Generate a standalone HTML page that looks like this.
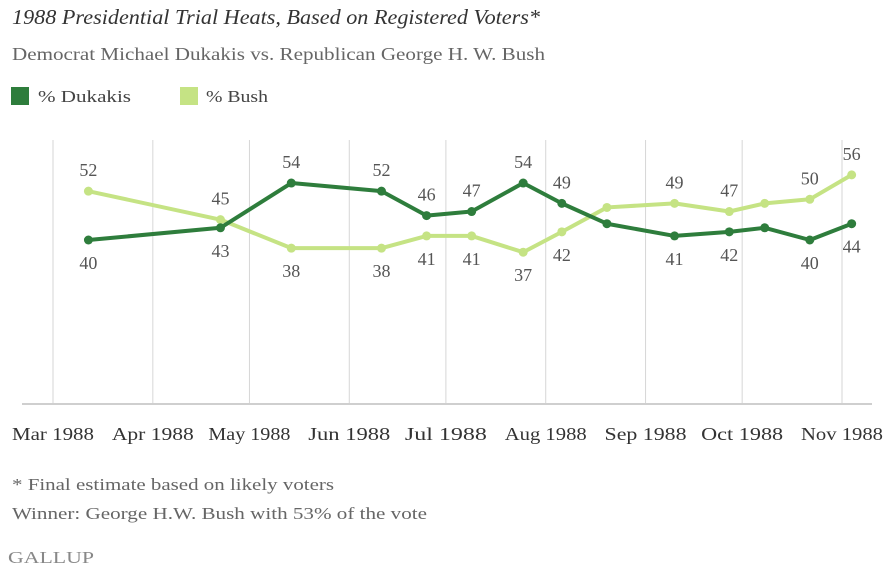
<!DOCTYPE html>
<html><head><meta charset="utf-8">
<style>
body{margin:0;background:#fff;width:894px;height:568px;overflow:hidden;font-family:"Liberation Serif",serif;}
svg{display:block}
</style></head>
<body>
<svg id="chart" width="894" height="568" viewBox="0 0 894 568" xmlns="http://www.w3.org/2000/svg">
  <text x="12" y="24" font-size="21" font-style="italic" fill="#333" textLength="528" lengthAdjust="spacingAndGlyphs">1988 Presidential Trial Heats, Based on Registered Voters*</text>
  <text x="12" y="60" font-size="17.5" fill="#666" textLength="533" lengthAdjust="spacingAndGlyphs">Democrat Michael Dukakis vs. Republican George H. W. Bush</text>
  <g>
    <rect x="11" y="87" width="18" height="18" fill="#2e7d3c"/>
    <text x="38" y="102" font-size="17" fill="#444" textLength="93" lengthAdjust="spacingAndGlyphs">% Dukakis</text>
    <rect x="180" y="87" width="18" height="18" fill="#c5e384"/>
    <text x="206" y="102" font-size="17" fill="#444" textLength="62" lengthAdjust="spacingAndGlyphs">% Bush</text>
  </g>
  <g id="grid"></g>
  <g id="xaxis"></g>
  <g id="series"></g>
  <text x="12" y="490" font-size="17" fill="#666" textLength="322" lengthAdjust="spacingAndGlyphs">* Final estimate based on likely voters</text>
  <text x="12" y="519" font-size="17" fill="#666" textLength="415" lengthAdjust="spacingAndGlyphs">Winner: George H.W. Bush with 53% of the vote</text>
  <text x="8" y="563" font-size="17" fill="#888" textLength="86" lengthAdjust="spacingAndGlyphs">GALLUP</text>
</svg>
<script>
const monthTicks = ["1988-03-01","1988-04-01","1988-05-01","1988-06-01","1988-07-01","1988-08-01","1988-09-01","1988-10-01","1988-11-01"];
const monthLabels = ["Mar 1988","Apr 1988","May 1988","Jun 1988","Jul 1988","Aug 1988","Sep 1988","Oct 1988","Nov 1988"];
const pollDates = ["1988-03-12","1988-04-22","1988-05-14","1988-06-11","1988-06-25","1988-07-09","1988-07-25","1988-08-06","1988-08-20","1988-09-10","1988-09-27","1988-10-08","1988-10-22","1988-11-04"];
const dukakis = [40,43,54,52,46,47,54,49,44,41,42,43,40,44];
const bush =    [52,45,38,38,41,41,37,42,48,49,47,49,50,56];
const showLabel = [true,true,true,true,true,true,true,true,false,true,true,false,true,true];

const NS="http://www.w3.org/2000/svg";
const t0 = Date.parse("1988-03-01"), t1 = Date.parse("1988-11-01");
function xScale(d){return 53 + (Date.parse(d)-t0)/(t1-t0)*(842-53);}
function yScale(v){return 240 - (v-40)*4.07;}
function mk(tag,attrs,parent){const e=document.createElementNS(NS,tag);for(const k in attrs)e.setAttribute(k,attrs[k]);parent.appendChild(e);return e;}

const grid=document.getElementById('grid'), xaxis=document.getElementById('xaxis'), series=document.getElementById('series');
monthTicks.forEach((d,i)=>{
  const x=xScale(d);
  const l=mk('line',{x1:x,x2:x,y1:140,y2:404,stroke:'#d6d6d6','stroke-width':1},grid);
  
  
  const t=mk('text',{x:x,y:440,'text-anchor':'middle','font-size':18,fill:'#333',textLength:82,lengthAdjust:'spacingAndGlyphs'},xaxis);
  t.textContent=monthLabels[i];
  
  
});
const base=mk('line',{x1:22,x2:872,y1:404,y2:404,stroke:'#cfcfcf','stroke-width':2},xaxis);



function drawSeries(vals,other,color,name){
  const g=mk('g',{},series);
  
  
  const pts=vals.map((v,i)=>xScale(pollDates[i])+','+yScale(v)).join(' ');
  const pl=mk('polyline',{points:pts,fill:'none',stroke:color,'stroke-width':4,'stroke-linejoin':'round'},g);
  
  
  vals.forEach((v,i)=>{
    const x=xScale(pollDates[i]), y=yScale(v);
    const c=mk('circle',{cx:x,cy:y,r:4.5,fill:color},g);
    
    
    if(showLabel[i]){
      const above=v>other[i];
      const t=mk('text',{x:x,y:above?y-15:y+29,'text-anchor':'middle','font-size':18,fill:'#555'},g);
      t.textContent=v;
      
      
    }
  });
}
drawSeries(bush,dukakis,'#c5e384','bush');
drawSeries(dukakis,bush,'#2e7d3c','dukakis');
</script>
</body></html>
